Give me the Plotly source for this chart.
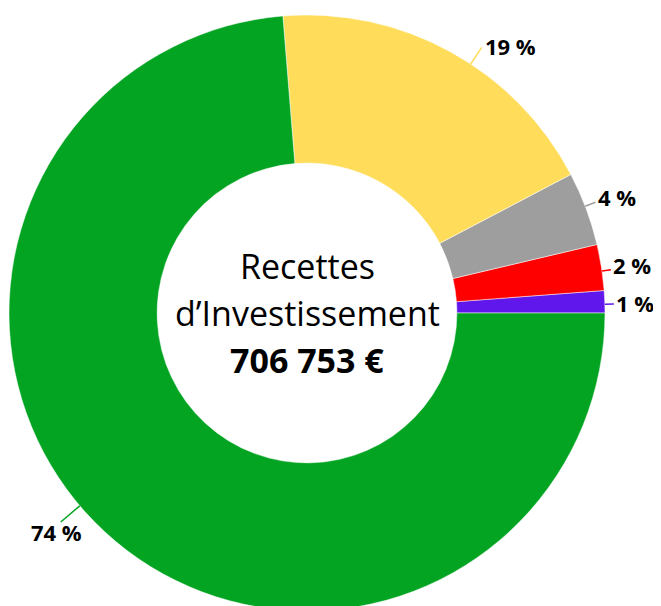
import math
import plotly.graph_objects as go

# ---- data ----
categories = ["Catégorie A", "Catégorie B", "Catégorie C", "Catégorie D", "Catégorie E"]
values = [8500, 17600, 28300, 131400, 520953]
pct_labels = ["1 %", "2 %", "4 %", "19 %", "74 %"]
total_label = "706 753 €"
center_title = ["Recettes", "d’Investissement"]

colors = ["#5f17eb", "#ff0000", "#9e9e9e", "#ffdc5a", "#02a421"]

# ---- layout geometry (style) ----
W = 653
ML, MT, MB = 1, 7, 15
PW = PH = 596
MR = W - ML - PW
H = PH + MT + MB
R = PW / 2.0

total = sum(values)
# plotly's counterclockwise pies end the first slice at the rotation angle;
# shift so the first slice starts at 3 o'clock
rot = 90 - values[0] / total * 360.0

fig = go.Figure(go.Pie(
    labels=categories, values=values, sort=False,
    direction="counterclockwise", rotation=rot, hole=0.503,
    marker=dict(colors=colors, line=dict(color="white", width=0.5)),
    textinfo="none", hoverinfo="label+value+percent", showlegend=False,
    domain=dict(x=[0, 1], y=[0, 1]),
))

def to_paper(dx, dy):
    return 0.5 + dx / PW, 0.5 + dy / PH

# label styling: angle nudge (deg), connector length (px), anchor side, shifts
angle_nudge = [-0.5, -0.7, 0.5, -4.5, -7]
conn_len = [9, 9, 11, 20, 25]
anchors = ["left", "left", "left", "left", "below"]
lbl_xshift = [0, 0, 1, 1, -4]
lbl_yshift = [1, 5, 5, 1, 7]

cum = 0.0
shapes, annots = [], []
for i, v in enumerate(values):
    start = cum / total * 360.0
    cum += v
    end = cum / total * 360.0
    mid = math.radians((start + end) / 2.0 + angle_nudge[i])
    c, s = math.cos(mid), math.sin(mid)
    x0, y0 = to_paper(R * c, R * s)
    x1, y1 = to_paper((R + conn_len[i]) * c, (R + conn_len[i]) * s)
    shapes.append(dict(type="line", xref="paper", yref="paper", x0=x0, y0=y0, x1=x1, y1=y1,
                       line=dict(color=colors[i], width=1.5)))
    if anchors[i] == "left":
        xa, ya = "left", "middle"
    else:
        xa, ya = "center", "top"
    annots.append(dict(x=x1, y=y1, xref="paper", yref="paper", text=f"<b>{pct_labels[i]}</b>",
                       showarrow=False, xanchor=xa, yanchor=ya,
                       xshift=lbl_xshift[i], yshift=lbl_yshift[i],
                       font=dict(family="Open Sans", size=22, color="black")))

# center text
center_lines = [center_title[0], center_title[1], f"<b>{total_label}</b>"]
shifts = [47, 0, -47]
for t, sh in zip(center_lines, shifts):
    annots.append(dict(x=0.5, y=0.5, xref="paper", yref="paper", text=t, showarrow=False,
                       xanchor="center", yanchor="middle", yshift=sh,
                       font=dict(family="Open Sans", size=34, color="black")))

fig.update_layout(
    width=W, height=H, margin=dict(l=ML, r=MR, t=MT, b=MB, pad=0),
    paper_bgcolor="white", plot_bgcolor="white",
    shapes=shapes, annotations=annots,
)
fig.write_html("out.html")
